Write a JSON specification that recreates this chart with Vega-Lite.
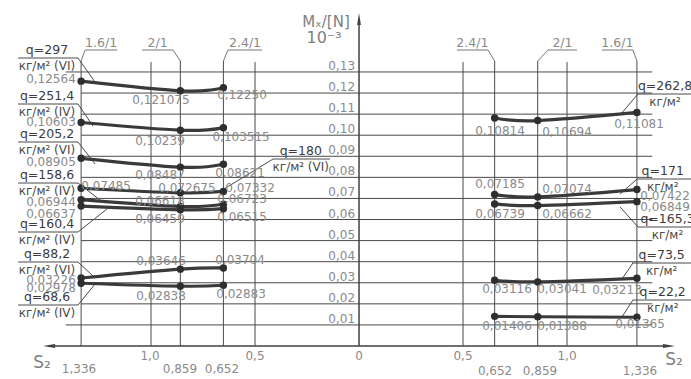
{
  "$schema": "https://vega.github.io/schema/vega-lite/v6.json",
  "width": 691,
  "height": 379,
  "autosize": {"type": "none"},
  "padding": 0,
  "background": "white",
  "config": {"view": {"stroke": null}, "text": {"font": "DejaVu Sans"}},
  "datasets": {
    "pts": [
      {"c": "C1", "x": -1.336, "y": 0.12564}, {"c": "C1", "x": -0.859, "y": 0.121075}, {"c": "C1", "x": -0.652, "y": 0.1225},
      {"c": "C2", "x": -1.336, "y": 0.10603}, {"c": "C2", "x": -0.859, "y": 0.10239}, {"c": "C2", "x": -0.652, "y": 0.103515},
      {"c": "C3", "x": -1.336, "y": 0.08905}, {"c": "C3", "x": -0.859, "y": 0.08487}, {"c": "C3", "x": -0.652, "y": 0.08621},
      {"c": "C4", "x": -1.336, "y": 0.07485}, {"c": "C4", "x": -0.859, "y": 0.072675}, {"c": "C4", "x": -0.652, "y": 0.07332},
      {"c": "C5", "x": -1.336, "y": 0.06944}, {"c": "C5", "x": -0.859, "y": 0.06618}, {"c": "C5", "x": -0.652, "y": 0.06723},
      {"c": "C6", "x": -1.336, "y": 0.06637}, {"c": "C6", "x": -0.859, "y": 0.06459}, {"c": "C6", "x": -0.652, "y": 0.06515},
      {"c": "C7", "x": -1.336, "y": 0.03226}, {"c": "C7", "x": -0.859, "y": 0.03646}, {"c": "C7", "x": -0.652, "y": 0.03704},
      {"c": "C8", "x": -1.336, "y": 0.02978}, {"c": "C8", "x": -0.859, "y": 0.02838}, {"c": "C8", "x": -0.652, "y": 0.02883},
      {"c": "R1", "x": 0.652, "y": 0.10814}, {"c": "R1", "x": 0.859, "y": 0.10694}, {"c": "R1", "x": 1.336, "y": 0.11081},
      {"c": "R2", "x": 0.652, "y": 0.07185}, {"c": "R2", "x": 0.859, "y": 0.07074}, {"c": "R2", "x": 1.336, "y": 0.07422},
      {"c": "R3", "x": 0.652, "y": 0.06739}, {"c": "R3", "x": 0.859, "y": 0.06662}, {"c": "R3", "x": 1.336, "y": 0.06849},
      {"c": "R4", "x": 0.652, "y": 0.03116}, {"c": "R4", "x": 0.859, "y": 0.03041}, {"c": "R4", "x": 1.336, "y": 0.03213},
      {"c": "R5", "x": 0.652, "y": 0.01406}, {"c": "R5", "x": 0.859, "y": 0.01388}, {"c": "R5", "x": 1.336, "y": 0.01365}
    ],
    "vlabels": [
      {"t": "0,12564", "x": -1.481, "y": 0.12666}, {"t": "0,121075", "x": -0.952, "y": 0.1167}, {"t": "0,12250", "x": -0.5625, "y": 0.11907},
      {"t": "0,10603", "x": -1.481, "y": 0.10626}, {"t": "0,10239", "x": -0.957, "y": 0.09725}, {"t": "0,103515", "x": -0.567, "y": 0.09915},
      {"t": "0,08905", "x": -1.481, "y": 0.08729}, {"t": "0,08487", "x": -0.957, "y": 0.08112}, {"t": "0,08621", "x": -0.572, "y": 0.08207},
      {"t": "0,07485", "x": -1.216, "y": 0.0759}, {"t": "0,072675", "x": -0.827, "y": 0.07495}, {"t": "0,07332", "x": -0.524, "y": 0.07495},
      {"t": "0,06944", "x": -1.481, "y": 0.06831}, {"t": "0,06618", "x": -0.957, "y": 0.06879}, {"t": "0,06723", "x": -0.5625, "y": 0.06973},
      {"t": "0,06637", "x": -1.481, "y": 0.06262}, {"t": "0,06459", "x": -0.957, "y": 0.06025}, {"t": "0,06515", "x": -0.5625, "y": 0.0612},
      {"t": "0,03226", "x": -1.481, "y": 0.03131}, {"t": "0,03646", "x": -0.952, "y": 0.04032}, {"t": "0,03704", "x": -0.572, "y": 0.0408},
      {"t": "0,02978", "x": -1.481, "y": 0.02751}, {"t": "0,02838", "x": -0.952, "y": 0.02372}, {"t": "0,02883", "x": -0.567, "y": 0.02467},
      {"t": "0,10814", "x": 0.678, "y": 0.10199}, {"t": "0,10694", "x": 1.0, "y": 0.10152}, {"t": "0,11081", "x": 1.346, "y": 0.10531},
      {"t": "0,07185", "x": 0.678, "y": 0.07685}, {"t": "0,07074", "x": 1.0, "y": 0.07448}, {"t": "0,07422", "x": 1.471, "y": 0.07116},
      {"t": "0,06739", "x": 0.678, "y": 0.06262}, {"t": "0,06662", "x": 1.0, "y": 0.06262}, {"t": "0,06849", "x": 1.471, "y": 0.06594},
      {"t": "0,03116", "x": 0.7115, "y": 0.02704}, {"t": "0,03041", "x": 0.976, "y": 0.02704}, {"t": "0,03213", "x": 1.24, "y": 0.02657},
      {"t": "0,01406", "x": 0.7115, "y": 0.00949}, {"t": "0,01388", "x": 0.976, "y": 0.00949}, {"t": "0,01365", "x": 1.351, "y": 0.01044}
    ],
    "qlab": [
      {"q": "q=297", "u": "кг/м² (VI)", "x": -1.5, "y": 0.13662},
      {"q": "q=251,4", "u": "кг/м² (IV)", "x": -1.5, "y": 0.1148},
      {"q": "q=205,2", "u": "кг/м² (VI)", "x": -1.5, "y": 0.09677},
      {"q": "q=158,6", "u": "кг/м² (IV)", "x": -1.5, "y": 0.07732},
      {"q": "q=160,4", "u": "кг/м² (IV)", "x": -1.5, "y": 0.05408},
      {"q": "q=88,2", "u": "кг/м² (VI)", "x": -1.5, "y": 0.03985},
      {"q": "q=68,6", "u": "кг/м² (IV)", "x": -1.5, "y": 0.01945},
      {"q": "q=180", "u": "кг/м² (VI)", "x": -0.28, "y": 0.08871},
      {"q": "q=262,8", "u": "кг/м²", "x": 1.471, "y": 0.11954},
      {"q": "q=171", "u": "кг/м²", "x": 1.46, "y": 0.07922},
      {"q": "q=165,3", "u": "кг/м²", "x": 1.483, "y": 0.05645},
      {"q": "q=73,5", "u": "кг/м²", "x": 1.455, "y": 0.03937},
      {"q": "q=22,2", "u": "кг/м²", "x": 1.46, "y": 0.02182}
    ],
    "segs": [
      {"k": "grid", "x": -1.41, "x2": 1.41, "y": 0.13, "y2": 0.13},
      {"k": "grid", "x": -1.336, "x2": 1.41, "y": 0.12, "y2": 0.12},
      {"k": "grid", "x": -1.336, "x2": 1.41, "y": 0.11, "y2": 0.11},
      {"k": "grid", "x": -1.336, "x2": 1.41, "y": 0.10, "y2": 0.10},
      {"k": "grid", "x": -1.336, "x2": 1.41, "y": 0.09, "y2": 0.09},
      {"k": "grid", "x": -1.336, "x2": 1.41, "y": 0.08, "y2": 0.08},
      {"k": "grid", "x": -1.336, "x2": 1.41, "y": 0.07, "y2": 0.07},
      {"k": "grid", "x": -1.336, "x2": 1.41, "y": 0.06, "y2": 0.06},
      {"k": "grid", "x": -1.336, "x2": 1.41, "y": 0.05, "y2": 0.05},
      {"k": "grid", "x": -1.336, "x2": 1.41, "y": 0.04, "y2": 0.04},
      {"k": "grid", "x": -1.336, "x2": 1.41, "y": 0.03, "y2": 0.03},
      {"k": "grid", "x": -1.336, "x2": 1.41, "y": 0.02, "y2": 0.02},
      {"k": "grid", "x": -1.41, "x2": 1.41, "y": 0.01, "y2": 0.01},
      {"k": "grid", "x": -1.336, "x2": -1.336, "y": 0, "y2": 0.1352},
      {"k": "grid", "x": -1.0, "x2": -1.0, "y": 0, "y2": 0.1347},
      {"k": "grid", "x": -0.859, "x2": -0.859, "y": 0, "y2": 0.1352},
      {"k": "grid", "x": -0.652, "x2": -0.652, "y": 0, "y2": 0.1352},
      {"k": "grid", "x": -0.5, "x2": -0.5, "y": 0, "y2": 0.1347},
      {"k": "grid", "x": 0.5, "x2": 0.5, "y": 0, "y2": 0.1347},
      {"k": "grid", "x": 0.652, "x2": 0.652, "y": 0, "y2": 0.1352},
      {"k": "grid", "x": 0.859, "x2": 0.859, "y": 0, "y2": 0.1352},
      {"k": "grid", "x": 1.0, "x2": 1.0, "y": 0, "y2": 0.1347},
      {"k": "grid", "x": 1.336, "x2": 1.336, "y": 0, "y2": 0.1352},
      {"k": "axis", "x": 0, "x2": 0, "y": 0, "y2": 0.153},
      {"k": "axis", "x": -1.49, "x2": 1.49, "y": 0, "y2": 0},
      {"k": "lead", "x": -1.639, "x2": -1.351, "y": 0.13662, "y2": 0.13662},
      {"k": "lead", "x": -1.639, "x2": -1.351, "y": 0.1148, "y2": 0.1148},
      {"k": "lead", "x": -1.639, "x2": -1.351, "y": 0.09677, "y2": 0.09677},
      {"k": "lead", "x": -1.639, "x2": -1.351, "y": 0.07732, "y2": 0.07732},
      {"k": "lead", "x": -1.639, "x2": -1.351, "y": 0.05408, "y2": 0.05408},
      {"k": "lead", "x": -1.639, "x2": -1.351, "y": 0.03985, "y2": 0.03985},
      {"k": "lead", "x": -1.639, "x2": -1.351, "y": 0.01945, "y2": 0.01945},
      {"k": "lead", "x": -0.413, "x2": -0.139, "y": 0.08871, "y2": 0.08871},
      {"k": "lead", "x": 1.341, "x2": 1.596, "y": 0.11954, "y2": 0.11954},
      {"k": "lead", "x": 1.337, "x2": 1.596, "y": 0.07922, "y2": 0.07922},
      {"k": "lead", "x": 1.341, "x2": 1.596, "y": 0.05645, "y2": 0.05645},
      {"k": "lead", "x": 1.3125, "x2": 1.596, "y": 0.03937, "y2": 0.03937},
      {"k": "lead", "x": 1.317, "x2": 1.596, "y": 0.02182, "y2": 0.02182},
      {"k": "lead", "x": -1.351, "x2": -1.269, "y": 0.13662, "y2": 0.12524},
      {"k": "lead", "x": -1.351, "x2": -1.279, "y": 0.1148, "y2": 0.10436},
      {"k": "lead", "x": -1.351, "x2": -1.269, "y": 0.09677, "y2": 0.08634},
      {"k": "lead", "x": -1.351, "x2": -1.245, "y": 0.07732, "y2": 0.06926},
      {"k": "lead", "x": -1.351, "x2": -1.212, "y": 0.05408, "y2": 0.06499},
      {"k": "lead", "x": -1.351, "x2": -1.279, "y": 0.03985, "y2": 0.03321},
      {"k": "lead", "x": -1.351, "x2": -1.269, "y": 0.01945, "y2": 0.02941},
      {"k": "lead", "x": -0.413, "x2": -0.649, "y": 0.08871, "y2": 0.07448},
      {"k": "lead", "x": 1.341, "x2": 1.255, "y": 0.11954, "y2": 0.10958},
      {"k": "lead", "x": 1.337, "x2": 1.255, "y": 0.07922, "y2": 0.07211},
      {"k": "lead", "x": 1.341, "x2": 1.255, "y": 0.05645, "y2": 0.06594},
      {"k": "lead", "x": 1.317, "x2": 1.264, "y": 0.03937, "y2": 0.03178},
      {"k": "lead", "x": 1.317, "x2": 1.264, "y": 0.02182, "y2": 0.01376},
      {"k": "ratio", "x": -1.317, "x2": -1.163, "y": 0.14042, "y2": 0.14042},
      {"k": "ratio", "x": -1.043, "x2": -0.894, "y": 0.14042, "y2": 0.14042},
      {"k": "ratio", "x": -0.63, "x2": -0.466, "y": 0.14042, "y2": 0.14042},
      {"k": "ratio", "x": 0.471, "x2": 0.62, "y": 0.14042, "y2": 0.14042},
      {"k": "ratio", "x": 0.909, "x2": 1.048, "y": 0.14042, "y2": 0.14042},
      {"k": "ratio", "x": 1.168, "x2": 1.317, "y": 0.14042, "y2": 0.14042},
      {"k": "ratio", "x": -1.317, "x2": -1.336, "y": 0.14042, "y2": 0.1352},
      {"k": "ratio", "x": -0.894, "x2": -0.859, "y": 0.14042, "y2": 0.1352},
      {"k": "ratio", "x": -0.63, "x2": -0.652, "y": 0.14042, "y2": 0.1352},
      {"k": "ratio", "x": 0.62, "x2": 0.652, "y": 0.14042, "y2": 0.1352},
      {"k": "ratio", "x": 0.909, "x2": 0.859, "y": 0.14042, "y2": 0.1352},
      {"k": "ratio", "x": 1.317, "x2": 1.336, "y": 0.14042, "y2": 0.1352}
    ],
    "ratios": [
      {"t": "1.6/1", "x": -1.24, "y": 0.1436},
      {"t": "2/1", "x": -0.968, "y": 0.1436},
      {"t": "2.4/1", "x": -0.548, "y": 0.1436},
      {"t": "2.4/1", "x": 0.545, "y": 0.1436},
      {"t": "2/1", "x": 0.978, "y": 0.1436},
      {"t": "1.6/1", "x": 1.242, "y": 0.1436}
    ],
    "yticks": [
      {"t": "0,13", "x": -0.019, "y": 0.13}, {"t": "0,12", "x": -0.019, "y": 0.12}, {"t": "0,11", "x": -0.019, "y": 0.11},
      {"t": "0,10", "x": -0.019, "y": 0.10}, {"t": "0,09", "x": -0.019, "y": 0.09}, {"t": "0,08", "x": -0.019, "y": 0.08},
      {"t": "0,07", "x": -0.019, "y": 0.07}, {"t": "0,06", "x": -0.019, "y": 0.06}, {"t": "0,05", "x": -0.019, "y": 0.05},
      {"t": "0,04", "x": -0.019, "y": 0.04}, {"t": "0,03", "x": -0.019, "y": 0.03}, {"t": "0,02", "x": -0.019, "y": 0.02},
      {"t": "0,01", "x": -0.019, "y": 0.01}
    ],
    "xticks": [
      {"t": "1,0", "x": -1.005, "y": -0.00474}, {"t": "0,5", "x": -0.5, "y": -0.00474}, {"t": "0", "x": 0.0, "y": -0.00474},
      {"t": "0,5", "x": 0.5, "y": -0.00474}, {"t": "1,0", "x": 1.0, "y": -0.00474},
      {"t": "1,336", "x": -1.346, "y": -0.01091}, {"t": "0,859", "x": -0.861, "y": -0.01091}, {"t": "0,652", "x": -0.659, "y": -0.01091},
      {"t": "0,652", "x": 0.654, "y": -0.01186}, {"t": "0,859", "x": 0.87, "y": -0.01186}, {"t": "1,336", "x": 1.351, "y": -0.01186}
    ],
    "titles": [
      {"t": "Mₓ/[N]", "x": -0.159, "y": 0.1537, "s": 15},
      {"t": "10⁻³", "x": -0.168, "y": 0.1461, "s": 16},
      {"t": "S₂", "x": -1.524, "y": -0.00806, "s": 17},
      {"t": "S₂", "x": 1.514, "y": -0.00664, "s": 17}
    ],
    "arrows": [
      {"x": -1.49, "y": 0, "d": "L"},
      {"x": 1.49, "y": 0, "d": "R"},
      {"x": 0, "y": 0.1551, "d": "U"}
    ]
  },
  "encoding": {
    "x": {"field": "x", "type": "quantitative", "scale": {"domain": [-1.726, 1.596], "nice": false, "zero": false}, "axis": null},
    "y": {"field": "y", "type": "quantitative", "scale": {"domain": [-0.01565, 0.16414], "nice": false, "zero": false}, "axis": null}
  },
  "layer": [
    {
      "data": {"name": "segs"},
      "transform": [{"filter": "datum.k === 'grid'"}],
      "mark": {"type": "rule", "color": "#4a4a4a", "strokeWidth": 1},
      "encoding": {"x2": {"field": "x2"}, "y2": {"field": "y2"}}
    },
    {
      "data": {"name": "segs"},
      "transform": [{"filter": "datum.k === 'axis'"}],
      "mark": {"type": "rule", "color": "#404040", "strokeWidth": 1.5},
      "encoding": {"x2": {"field": "x2"}, "y2": {"field": "y2"}}
    },
    {
      "data": {"name": "segs"},
      "transform": [{"filter": "datum.k === 'lead'"}],
      "mark": {"type": "rule", "color": "#4a4a4a", "strokeWidth": 1},
      "encoding": {"x2": {"field": "x2"}, "y2": {"field": "y2"}}
    },
    {
      "data": {"name": "segs"},
      "transform": [{"filter": "datum.k === 'ratio'"}],
      "mark": {"type": "rule", "color": "#777777", "strokeWidth": 1},
      "encoding": {"x2": {"field": "x2"}, "y2": {"field": "y2"}}
    },
    {
      "data": {"name": "arrows"},
      "transform": [{"filter": "datum.d === 'L'"}],
      "mark": {"type": "point", "shape": "M-1,0L1,-0.32L1,0.32Z", "size": 144, "filled": true, "color": "#404040", "opacity": 1}
    },
    {
      "data": {"name": "arrows"},
      "transform": [{"filter": "datum.d === 'R'"}],
      "mark": {"type": "point", "shape": "M1,0L-1,-0.32L-1,0.32Z", "size": 144, "filled": true, "color": "#404040", "opacity": 1}
    },
    {
      "data": {"name": "arrows"},
      "transform": [{"filter": "datum.d === 'U'"}],
      "mark": {"type": "point", "shape": "M0,-1L-0.32,1L0.32,1Z", "size": 144, "filled": true, "color": "#404040", "opacity": 1}
    },
    {
      "data": {"name": "pts"},
      "mark": {"type": "line", "interpolate": "natural", "color": "#3a3a3a", "strokeWidth": 3.2},
      "encoding": {"detail": {"field": "c"}}
    },
    {
      "data": {"name": "pts"},
      "mark": {"type": "circle", "size": 55, "color": "#2e2e2e", "opacity": 1}
    },
    {
      "data": {"name": "vlabels"},
      "mark": {"type": "text", "fontSize": 12, "color": "#8a8a8a", "align": "center", "baseline": "middle"},
      "encoding": {"text": {"field": "t"}}
    },
    {
      "data": {"name": "qlab"},
      "mark": {"type": "text", "fontSize": 12.5, "color": "#3c3c3c", "align": "center", "baseline": "middle", "dy": -8},
      "encoding": {"text": {"field": "q"}}
    },
    {
      "data": {"name": "qlab"},
      "mark": {"type": "text", "fontSize": 12, "color": "#4a4a4a", "align": "center", "baseline": "middle", "dy": 8},
      "encoding": {"text": {"field": "u"}}
    },
    {
      "data": {"name": "ratios"},
      "mark": {"type": "text", "fontSize": 12.5, "color": "#8a8a8a", "align": "center", "baseline": "middle"},
      "encoding": {"text": {"field": "t"}}
    },
    {
      "data": {"name": "yticks"},
      "mark": {"type": "text", "fontSize": 12, "color": "#8a8a8a", "align": "right", "baseline": "alphabetic", "dy": -2},
      "encoding": {"text": {"field": "t"}}
    },
    {
      "data": {"name": "xticks"},
      "mark": {"type": "text", "fontSize": 12, "color": "#8a8a8a", "align": "center", "baseline": "middle"},
      "encoding": {"text": {"field": "t"}}
    },
    {
      "data": {"name": "titles"},
      "mark": {"type": "text", "color": "#808080", "align": "center", "baseline": "middle"},
      "encoding": {"text": {"field": "t"}, "size": {"field": "s", "type": "quantitative", "scale": null}}
    }
  ]
}
